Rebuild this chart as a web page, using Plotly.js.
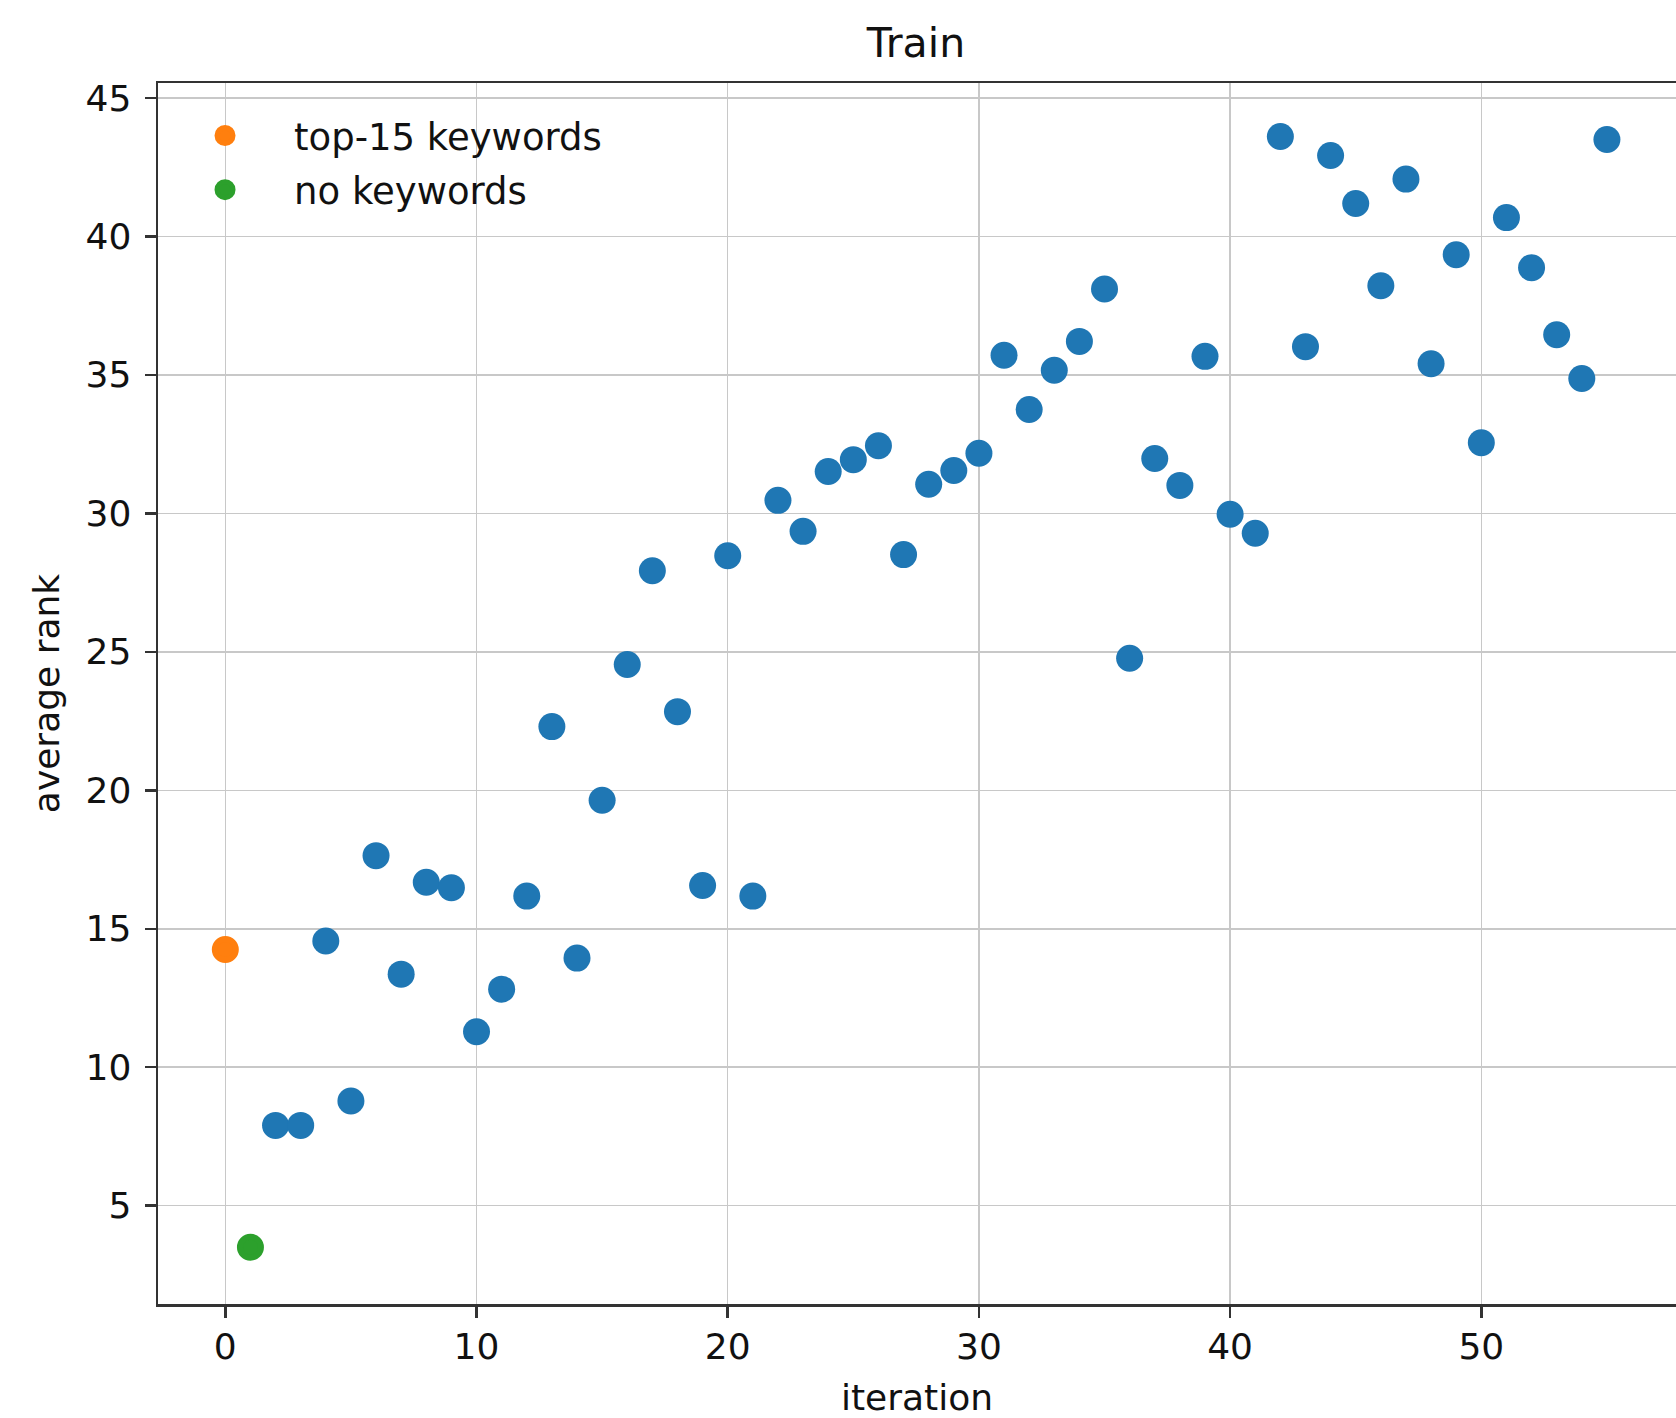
<!DOCTYPE html>
<html>
<head>
<meta charset="utf-8">
<script src="https://cdn.plot.ly/plotly-3.0.1.min.js"></script>
<style>html,body{margin:0;padding:0;background:#fff;}#chart{width:1676px;height:1418px;}</style>
</head>
<body>
<div id="chart"></div>
<script>
// Data
const blueIter = [2,3,4,5,6,7,8,9,10,11,12,13,14,15,16,17,18,19,20,21,22,23,24,25,26,27,28,29,30,31,32,33,34,35,36,37,38,39,40,41,42,43,44,45,46,47,48,49,50,51,52,53,54,55];
const blueRank = [7.9,7.9,14.56,8.78,17.64,13.36,16.68,16.48,11.28,12.82,16.18,22.3,13.94,19.64,24.54,27.93,22.84,16.56,28.47,16.18,30.47,29.35,31.51,31.94,32.44,28.51,31.05,31.55,32.17,35.71,33.75,35.17,36.21,38.1,24.77,31.98,31.01,35.67,29.97,29.28,43.61,36.02,42.92,41.19,38.22,42.07,35.4,39.34,32.55,40.68,38.87,36.45,34.87,43.5];
const topIter = [0];
const topRank = [14.25];
const noIter = [1];
const noRank = [3.5];
const legendNames = ["top-15 keywords", "no keywords"];
const xTicks = [0,10,20,30,40,50];
const yTicks = [5,10,15,20,25,30,35,40,45];

const FONT = "DejaVu Sans, Liberation Sans, sans-serif";

const traces = [
  {x: blueIter, y: blueRank, type: 'scatter', mode: 'markers', showlegend: false,
   marker: {color: '#1f77b4', size: 27}},
  {x: topIter, y: topRank, type: 'scatter', mode: 'markers', name: legendNames[0], legendgroup: 'a',
   marker: {color: '#ff7f0e', size: 21, line: {color: '#ff7f0e', width: 6}}},
  {x: noIter, y: noRank, type: 'scatter', mode: 'markers', name: legendNames[1], legendgroup: 'b',
   marker: {color: '#2ca02c', size: 21, line: {color: '#2ca02c', width: 6}}}
];

const axisCommon = {
  showgrid: true, gridcolor: '#c8c8c8', gridwidth: 1.5,
  zeroline: false, showline: true, linecolor: '#333333', linewidth: 2.5, mirror: true,
  ticks: 'outside', ticklen: 11, tickwidth: 2.5, tickcolor: '#333333',
  tickfont: {family: FONT, size: 36, color: '#111'},
  automargin: false
};

const layout = {
  width: 1676, height: 1418,
  margin: {l: 158, r: 0, t: 83, b: 114},
  paper_bgcolor: '#ffffff', plot_bgcolor: '#ffffff',
  font: {family: FONT, color: '#111'},
  title: {text: 'Train', font: {family: FONT, size: 41, color: '#111'},
          x: 0.5465, xanchor: 'center', y: 0.9697, yanchor: 'middle'},
  xaxis: Object.assign({}, axisCommon, {
    range: [-2.68, 57.75], tickvals: xTicks, ticktext: xTicks.map(String),
    ticklabelstandoff: -2,
    title: {text: 'iteration', font: {family: FONT, size: 36, color: '#111'}, standoff: 22}
  }),
  yaxis: Object.assign({}, axisCommon, {
    range: [1.45, 45.54], tickvals: yTicks, ticktext: yTicks.map(String),
    ticklabelstandoff: 6,
    title: {text: 'average rank', font: {family: FONT, size: 36, color: '#111'}, standoff: 15}
  }),
  legend: {
    x: -0.0013, xanchor: 'left', y: 0.982, yanchor: 'top',
    bgcolor: 'rgba(255,255,255,0)', borderwidth: 0,
    font: {family: FONT, size: 37, color: '#111'},
    itemwidth: 128, traceorder: 'grouped', tracegroupgap: 3
  },
  showlegend: true
};

Plotly.newPlot('chart', traces, layout, {displayModeBar: false, staticPlot: true});
</script>
</body>
</html>
